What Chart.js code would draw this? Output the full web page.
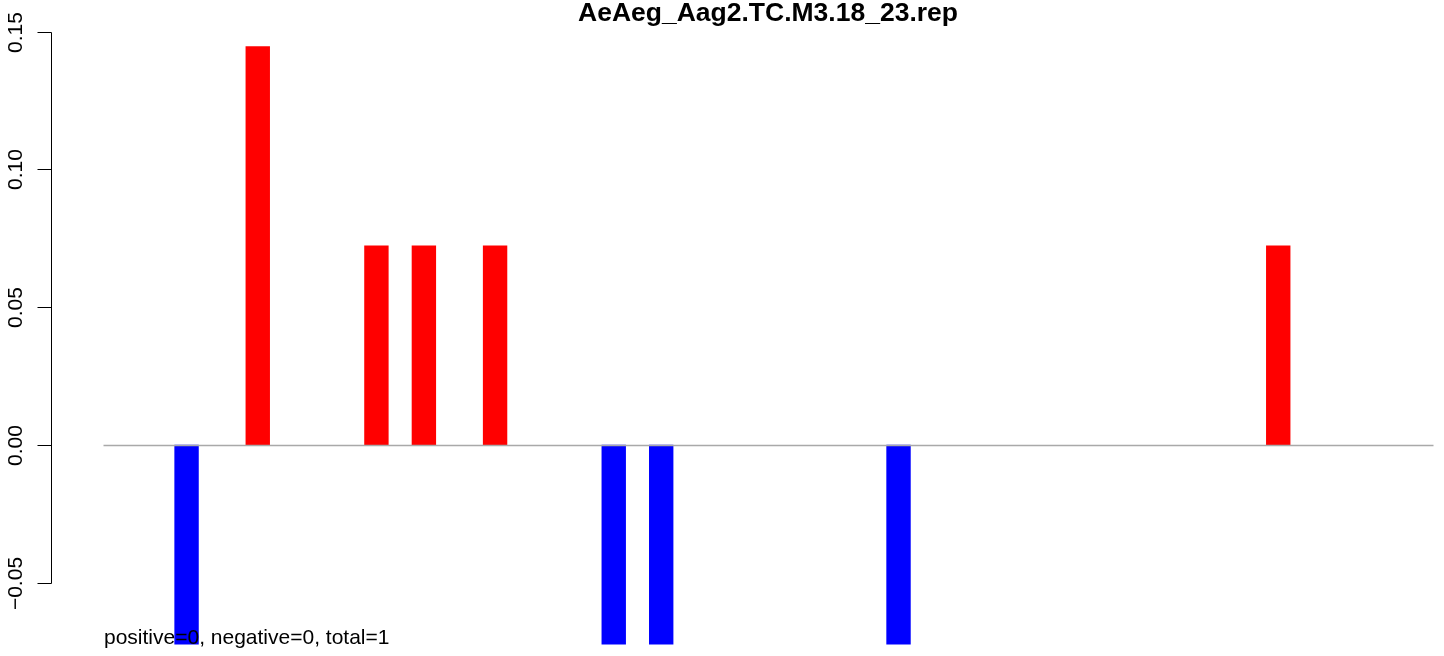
<!DOCTYPE html>
<html>
<head>
<meta charset="utf-8">
<script src="https://cdn.jsdelivr.net/npm/chart.js@4/dist/chart.umd.min.js"></script>
<style>
html, body { margin: 0; padding: 0; background: #ffffff; }
#wrap { width: 1444px; height: 656px; }
</style>
</head>
<body>
<div id="wrap"><canvas id="repChart" width="1444" height="656"></canvas></div>
<script>

// chart data

let title = "AeAeg_Aag2.TC.M3.18_23.rep";
let footText = "positive=0, negative=0, total=1";

let positions = [
"1","2","3","4","5","6","7","8","9","10","11","12","13","14",
"15","16","17","18","19","20","21","22","23","24","25","26","27","28",
"29","30","31","32","33","34","35","36","37","38","39","40","41","42",
"43","44","45","46","47","48","49","50","51","52","53","54","55","56"
];

// null = empty slot (no bar)
let values = [
null, null, null, -0.0723, null, null, 0.1446, null, null, null, null, 0.0723, null, 0.0723,
null, null, 0.0723, null, null, null, null, -0.0723, null, -0.0723, null, null, null, null,
null, null, null, null, null, -0.0723, null, null, null, null, null, null, null, null,
null, null, null, null, null, null, null, 0.0723, null, null, null, null, null, null
];

let yTicks = [-0.05, 0, 0.05, 0.10, 0.15];
let yTickLabels = ["\u22120.05", "0.00", "0.05", "0.10", "0.15"];

// draw axis, zero line, title and footer text (R base graphics look)

let rDecor = {
id: "rDecor",
afterDatasetsDraw(c){
let ctx = c.ctx;
let area = c.chartArea;
let y = c.scales.y;

ctx.save();

// zero line
let y0 = Math.round(y.getPixelForValue(0)) + 0.5;
ctx.strokeStyle = "#a9a9a9";
ctx.lineWidth = 1.5;
ctx.beginPath();
ctx.moveTo(area.left, y0);
ctx.lineTo(area.right + 1, y0);
ctx.stroke();

// y axis
let axisX = 51.5;
ctx.strokeStyle = "#000000";
ctx.lineWidth = 1;
ctx.beginPath();
ctx.moveTo(axisX, Math.round(y.getPixelForValue(yTicks[yTicks.length - 1])) + 0.5);
ctx.lineTo(axisX, Math.round(y.getPixelForValue(yTicks[0])) + 0.5);
ctx.stroke();

ctx.font = "21px 'Liberation Sans', Arial, sans-serif";
ctx.fillStyle = "#000000";
ctx.textAlign = "center";
ctx.textBaseline = "alphabetic";

yTicks.forEach((v, i) => {
let py = Math.round(y.getPixelForValue(v)) + 0.5;
ctx.beginPath();
ctx.moveTo(axisX - 14, py);
ctx.lineTo(axisX, py);
ctx.stroke();

ctx.save();
ctx.translate(22, py);
ctx.rotate(-Math.PI / 2);
ctx.fillText(yTickLabels[i], 0, 0);
ctx.restore();
});

// footer
ctx.textAlign = "left";
ctx.fillText(footText, 104, 644);

// title
ctx.font = "bold 26.5px 'Liberation Sans', Arial, sans-serif";
ctx.textAlign = "center";
ctx.fillText(title, (area.left + area.right) / 2, 21);

ctx.restore();
}
};

let chart = new Chart(document.getElementById("repChart"), {

type: "bar",

data: {
labels: positions,
datasets: [{
data: values,
backgroundColor: values.map(v => v < 0 ? "#0000ff" : "#ff0000"),
borderWidth: 0,
barPercentage: 1,
categoryPercentage: 1
}]
},

options: {
responsive: false,
animation: false,
devicePixelRatio: 1,
layout: {
padding: { left: 103.5, right: 11.5, top: 0, bottom: 0 }
},
plugins: {
legend: { display: false },
tooltip: { enabled: false },
title: { display: false }
},
scales: {
x: { display: false },
y: {
display: false,
min: -0.0766,
max: 0.1615
}
}
},

plugins: [rDecor]

});

</script>
</body>
</html>
